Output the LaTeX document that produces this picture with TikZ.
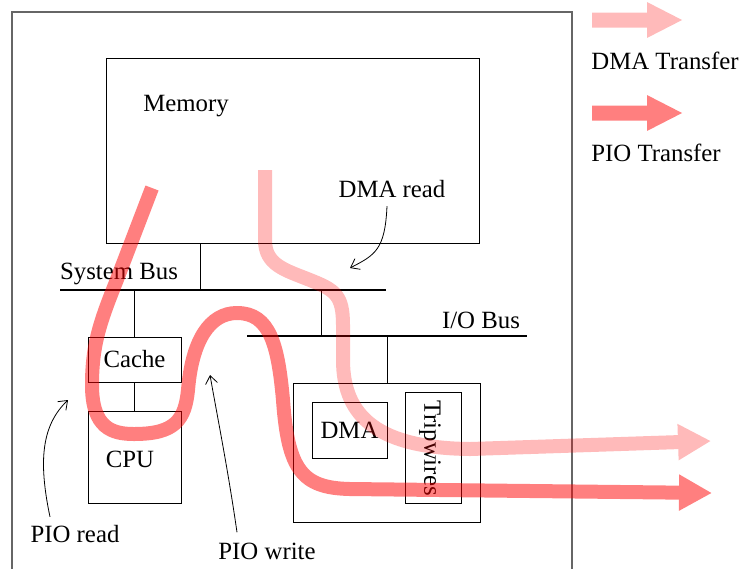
\documentclass[tikz,border=0pt]{standalone}
\usepackage{fontspec}
\setmainfont{Liberation Serif}
\usetikzlibrary{arrows.meta,calc}
\begin{document}
\begin{tikzpicture}[x=0.5pt,y=-0.5pt,
  box/.style={draw,line width=0.5pt,inner sep=0pt},
  lbl/.style={inner sep=0pt,font=\fontsize{12.4}{14}\selectfont},
  bus/.style={line width=0.8pt},
  link/.style={line width=0.5pt},
  annot/.style={line width=0.4pt,-{Straight Barb[length=4pt,width=6pt]}},
  pio/.style={line width=7pt,red,-{Triangle[length=16.5pt,width=17pt]}},
  dma/.style={line width=7pt,red,-{Triangle[length=16.5pt,width=17pt]}},
  legend/.style={line width=7.5pt,red,-{Triangle[length=18pt,width=16.5pt]}}]
\useasboundingbox (0,0) rectangle (742,568);
\clip (0,0) rectangle (742,568);
% outer frame
\draw[black!60,line width=0.7pt] (12,600) -- (12,12) -- (572,12) -- (572,600);
% boxes
\node[box,minimum width=186.5pt,minimum height=92.5pt] (memory) at (292.5,150.5) {};
\node[lbl] (memlbl) at (186,106) {Memory};
\node[box,lbl,draw,minimum width=46.5pt,minimum height=22.5pt] (cache) at (134.5,359.5) {Cache};
\node[box,minimum width=46.5pt,minimum height=46pt] (cpu) at (134.5,457) {};
\node[lbl] (cpulbl) at (130,459) {CPU};
\node[box,minimum width=93.5pt,minimum height=69.5pt] (dev) at (386.5,452.5) {};
\node[box,lbl,draw,minimum width=37.5pt,minimum height=28pt] (dmabox) at (349.5,430) {DMA};
\node[box,minimum width=28pt,minimum height=55.5pt] (trip) at (433,447.5) {};
\node[lbl,rotate=-90] (triplbl) at (430,448) {Tripwires};
% buses
\coordinate (sysL) at (60,290);
\coordinate (sysR) at (386,290);
\coordinate (ioL) at (247,336);
\coordinate (ioR) at (527,336);
\draw[bus] (sysL) -- (sysR);
\draw[bus] (ioL) -- (ioR);
\node[lbl] (syslbl) at (119,274) {System Bus};
\node[lbl] (iolbl) at (481,320) {I/O Bus};
% links
\coordinate (s1) at (200,290);
\coordinate (s2) at (134.5,290);
\coordinate (s3) at (321,290);
\coordinate (i3) at (321,336);
\coordinate (i4) at (387,336);
\draw[link] (s1 |- memory.south) -- (s1);
\draw[link] (s2) -- (cache.north);
\draw[link] (cache.south) -- (cpu.north);
\draw[link] (s3) -- (i3);
\draw[link] (i4) -- (i4 |- dev.north);
% legend
\coordinate (lg1a) at (592,20);
\coordinate (lg1b) at (683,20);
\coordinate (lg2a) at (592,113);
\coordinate (lg2b) at (683,113);
\begin{scope}[transparency group,opacity=0.27]
\draw[legend] (lg1a) -- (lg1b);
\end{scope}
\begin{scope}[transparency group,opacity=0.5]
\draw[legend] (lg2a) -- (lg2b);
\end{scope}
\node[lbl,anchor=west] (dmalg) at (591,61) {DMA Transfer};
\node[lbl,anchor=west] (piolg) at (591,153) {PIO Transfer};
% transfer paths
\coordinate (dmaS) at (265,170);
\coordinate (dmaE) at (711,441);
\coordinate (pioS) at (152,188);
\coordinate (pioE) at (712,493);
\begin{scope}[transparency group,opacity=0.27]
\draw[dma] (dmaS) -- (265,240) .. controls (265,265) and (285,270) .. (310,280)
  .. controls (335,290) and (343,295) .. (343,325) -- (343,360)
  .. controls (343,418) and (380,448) .. (470,449) -- (dmaE);
\end{scope}
\begin{scope}[transparency group,opacity=0.5]
\draw[pio] (pioS) -- (116,282) .. controls (100,322) and (92,345) .. (92,385)
  .. controls (92,428) and (112,434) .. (134,434)
  .. controls (175,434) and (185,420) .. (188,390)
  .. controls (192,340) and (210,313) .. (237,313)
  .. controls (270,313) and (278,345) .. (283,400)
  .. controls (288,470) and (302,488) .. (350,489) -- (pioE);
\end{scope}
% annotations
\node[lbl] (dmaread) at (392,189) {DMA read};
\node[lbl] (pioread) at (75,534) {PIO read};
\node[lbl] (piowrite) at (267,551) {PIO write};
\coordinate (dmaT) at (350,268);
\coordinate (pioRT) at (68,400);
\coordinate (pioWT) at (210,375);
\draw[annot] ([xshift=-2.5pt,yshift=-4pt]dmaread.south) .. controls (385,250) and (375,255) .. (dmaT);
\draw[annot] ([xshift=-12.5pt,yshift=4pt]pioread.north) .. controls (38,460) and (42,425) .. (pioRT);
\draw[annot] ([xshift=-15pt,yshift=5pt]piowrite.north) .. controls (228,470) and (218,420) .. (pioWT);
\end{tikzpicture}
\end{document}
